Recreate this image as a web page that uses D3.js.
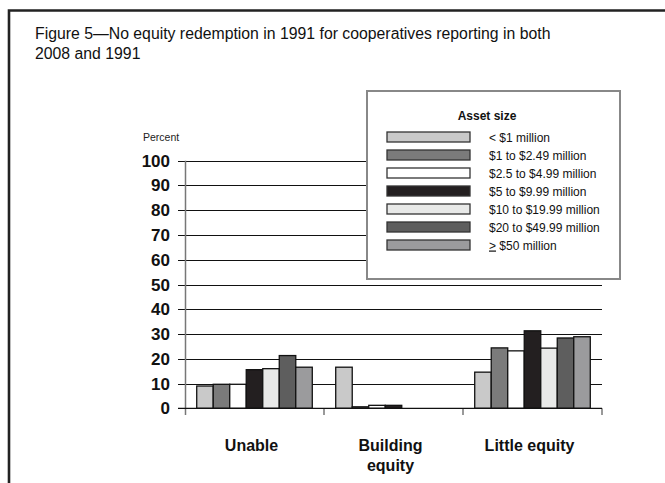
<!DOCTYPE html>
<html>
<head>
<meta charset="utf-8">
<script src="https://cdn.jsdelivr.net/npm/d3@7"></script>
<style>
  body { margin: 0; background: #fff; }
  svg { display: block; font-family: "Liberation Sans", Arial, sans-serif; }
</style>
</head>
<body>
<div id="chart"></div>
<script>
// Categories and series (percent of cooperatives)
const categories = ["Unable", "Building equity", "Little equity"];
const categoryLines = [["Unable"], ["Building", "equity"], ["Little equity"]];
const sizeClasses = ["< $1 million", "$1 to $2.49 million", "$2.5 to $4.99 million",
  "$5 to $9.99 million", "$10 to $19.99 million", "$20 to $49.99 million", "> $50 million"];
const under1 = [9, 16.6, 14.6];
const from1to2 = [9.7, 0.6, 24.4];
const from2to5 = [9.7, 1.2, 23.2];
const from5to10 = [15.6, 1.2, 31.3];
const from10to20 = [16, 0, 24.3];
const from20to50 = [21.3, 0, 28.4];
const over50 = [16.6, 0, 28.9];
const yTicks = [0, 10, 20, 30, 40, 50, 60, 70, 80, 90, 100];

const seriesValues = [under1, from1to2, from2to5, from5to10, from10to20, from20to50, over50];
const fills = ["#c9c9c9", "#7b7b7b", "#ffffff", "#231f20", "#e8e9e8", "#5e5e5e", "#9b9b9d"];

const width = 665, height = 483;
const svg = d3.select("#chart").append("svg")
  .attr("width", width).attr("height", height);

// outer frame (left and top only visible)
svg.append("path")
  .attr("d", "M9,483 V10.5 H665")
  .attr("fill", "none").attr("stroke", "#222").attr("stroke-width", 2.6);

// title
const title = svg.append("text").attr("x", 35).attr("y", 39)
  .attr("font-size", 15.8).attr("fill", "#111");
title.append("tspan").attr("x", 35).text("Figure 5\u2014No equity redemption in 1991 for cooperatives reporting in both");
title.append("tspan").attr("x", 35).attr("dy", 20).text("2008 and 1991");

// scales
const y = d3.scaleLinear().domain([0, 100]).range([408.3, 160.7]);
const x0 = d3.scaleBand().domain(categories).range([185, 602]).padding(0);
const x1 = d3.scaleBand().domain(sizeClasses).range([0, x0.bandwidth()])
  .paddingInner(0).paddingOuter(0.71);

// gridlines
svg.append("g").selectAll("line").data(yTicks).join("line")
  .attr("x1", 178).attr("x2", 602)
  .attr("y1", d => Math.round(y(d)) + 0.5).attr("y2", d => Math.round(y(d)) + 0.5)
  .attr("stroke", "#111").attr("stroke-width", 1);

// y tick labels
svg.append("g").selectAll("text").data(yTicks).join("text")
  .attr("x", 170).attr("y", d => y(d) + 6)
  .attr("text-anchor", "end").attr("font-size", 17).attr("font-weight", "bold")
  .attr("fill", "#111").text(d => d);

svg.append("text").attr("x", 143).attr("y", 141)
  .attr("font-size", 10.5).attr("fill", "#222").text("Percent");

// y axis line
svg.append("line").attr("x1", 185.5).attr("x2", 185.5)
  .attr("y1", y(100)).attr("y2", 415)
  .attr("stroke", "#777").attr("stroke-width", 1.5);

// category ticks
const tickXs = categories.map(c => x0(c)).concat([x0.range()[1]]);
svg.append("g").selectAll("line").data(tickXs.slice(1)).join("line")
  .attr("x1", d => d).attr("x2", d => d)
  .attr("y1", y(0)).attr("y2", 415)
  .attr("stroke", "#777").attr("stroke-width", 1.5);

// bars
const groups = svg.append("g").selectAll("g").data(categories).join("g")
  .attr("transform", c => `translate(${x0(c)},0)`);

groups.selectAll("rect")
  .data((c, ci) => sizeClasses.map((s, si) => ({ s, si, v: seriesValues[si][ci] })).filter(d => d.v > 0))
  .join("rect")
  .attr("x", d => x1(d.s))
  .attr("y", d => y(d.v))
  .attr("width", x1.bandwidth())
  .attr("height", d => y(0) - y(d.v))
  .attr("fill", d => fills[d.si])
  .attr("stroke", "#111").attr("stroke-width", 1.3);

// baseline
svg.append("line").attr("x1", 178).attr("x2", 602)
  .attr("y1", y(0)).attr("y2", y(0))
  .attr("stroke", "#111").attr("stroke-width", 1.2);

// category labels
const catText = svg.append("g").selectAll("text").data(categories).join("text")
  .attr("x", c => x0(c) + x0.bandwidth() / 2 - 3)
  .attr("y", 451)
  .attr("text-anchor", "middle").attr("font-size", 16).attr("font-weight", "bold")
  .attr("fill", "#111");
catText.each(function (c, i) {
  const t = d3.select(this);
  categoryLines[i].forEach((line, li) => {
    t.append("tspan").attr("x", x0(c) + x0.bandwidth() / 2 - 3)
      .attr("dy", li === 0 ? 0 : 20).text(line);
  });
});

// legend
const legend = svg.append("g");
legend.append("rect").attr("x", 367).attr("y", 91).attr("width", 253).attr("height", 188)
  .attr("fill", "#fff").attr("stroke", "#888").attr("stroke-width", 2);
legend.append("text").attr("x", 487).attr("y", 120)
  .attr("text-anchor", "middle").attr("font-size", 12).attr("font-weight", "bold")
  .attr("fill", "#111").text("Asset size");

const items = legend.selectAll("g.item").data(sizeClasses).join("g")
  .attr("class", "item")
  .attr("transform", (d, i) => `translate(0,${132 + i * 18})`);
items.append("rect").attr("x", 387).attr("y", 0).attr("width", 83).attr("height", 10)
  .attr("fill", (d, i) => fills[i]).attr("stroke", "#333").attr("stroke-width", 1.3);
items.append("text").attr("x", 489).attr("y", 9.5)
  .attr("font-size", 12).attr("fill", "#111")
  .each(function (d) {
    const t = d3.select(this);
    if (d.startsWith(">")) {
      t.append("tspan").attr("text-decoration", "underline").text(">");
      t.append("tspan").text(d.slice(1));
    } else {
      t.text(d);
    }
  });
</script>
</body>
</html>
